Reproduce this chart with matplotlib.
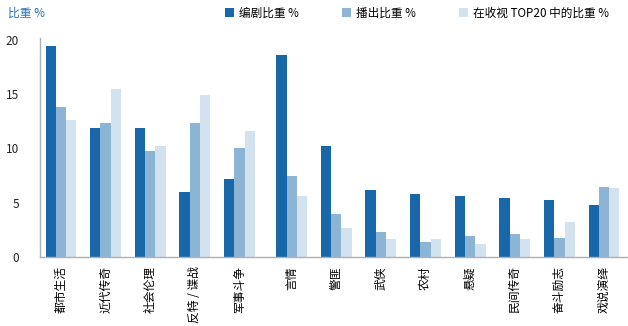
import numpy as np
import matplotlib
matplotlib.use("Agg")
import matplotlib.pyplot as plt

plt.rcParams['font.family'] = ['Noto Sans CJK SC', 'DejaVu Sans']

categories = ["都市生活", "近代传奇", "社会伦理", "反特 / 谍战", "军事斗争",
              "言情", "警匪", "武侠", "农村", "悬疑", "民间传奇", "奋斗励志", "戏说演绎"]
series_names = ["编剧比重 %", "播出比重 %", "在收视 TOP20 中的比重 %"]
bianju = [19.45, 11.9, 11.9, 6.0, 7.2, 18.6, 10.2, 6.15, 5.75, 5.6, 5.4, 5.2, 4.75]
bochu = [13.8, 12.3, 9.75, 12.3, 10.0, 7.45, 3.9, 2.25, 1.4, 1.9, 2.1, 1.7, 6.4]
top20 = [12.6, 15.5, 10.2, 14.9, 11.6, 5.6, 2.65, 1.6, 1.6, 1.15, 1.6, 3.2, 6.3]
yticks = [0, 5, 10, 15, 20]

colors = ["#1868a9", "#8bb4d5", "#d2e2ef"]

fig = plt.figure(figsize=(6.28, 3.26), dpi=100)
ax = fig.add_axes([0.0637, 0.2126, 0.9343, 0.671])

# extra gap between the first five groups and the rest
x = np.arange(len(categories)) + (np.arange(len(categories)) >= 5) * 0.17
w = 0.23
for i, (vals, name) in enumerate(zip([bianju, bochu, top20], series_names)):
	ax.bar(x + (i - 1) * w, vals, w, color=colors[i], label=name, linewidth=0)

ax.set_xlim(-0.47, x[-1] + 0.51)
ax.set_ylim(0, 20.2)
ax.set_yticks(yticks)
ax.tick_params(axis='y', length=0, pad=15, labelsize=8.5, labelcolor="#222222")
ax.set_xticks(x)
ax.set_xticklabels(categories, rotation=90, fontsize=8.5, va='top', ha='center')
ax.tick_params(axis='x', length=0, pad=7)

for s in ['top', 'right']:
	ax.spines[s].set_visible(False)
for s in ['left', 'bottom']:
	ax.spines[s].set_color("#b0b0b0")
	ax.spines[s].set_linewidth(1)

fig.text(0.013, 0.96, "比重 %", color="#2a72b2", fontsize=8.5, va='center', ha='left')

fig.legend(loc='center right', bbox_to_anchor=(0.977, 0.96), ncol=3, frameon=False,
	fontsize=8.4, handlelength=0.75, handleheight=0.75, handletextpad=0.45,
	columnspacing=3.7, borderaxespad=0)

fig.savefig("out.png", dpi=100)
